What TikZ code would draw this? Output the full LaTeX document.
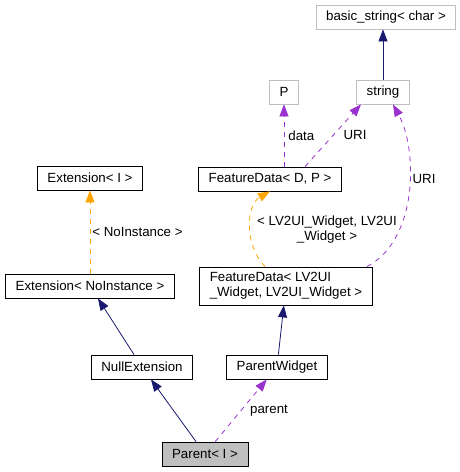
\documentclass[tikz,border=0pt]{standalone}
\usepackage{fontspec}
\setmainfont{Liberation Sans}
\usetikzlibrary{positioning,arrows.meta,calc}
\definecolor{azulheranca}{HTML}{191970}
\definecolor{laranja}{HTML}{FFA500}
\definecolor{roxo}{HTML}{9A32CD}
\definecolor{cinza}{HTML}{BFBFBF}
\tikzset{
  classe/.style={draw=black, line width=0.8pt, minimum height=24pt, inner xsep=10pt, inner ysep=2pt, font=\fontsize{13.3}{15}\selectfont},
  externa/.style={classe, draw=cinza},
  heranca/.style={-{Triangle[length=12pt,width=9pt]}, azulheranca, line width=0.8pt},
  uso/.style={-{Triangle[length=12pt,width=9pt]}, roxo, dash pattern=on 5pt off 5pt, line width=0.8pt},
  modelo/.style={-{Triangle[length=12pt,width=9pt]}, laranja, dash pattern=on 5pt off 5pt, line width=0.8pt},
  rotulo/.style={font=\fontsize{13.3}{15}\selectfont, inner sep=2pt, text=black},
}

\begin{document}
\begin{tikzpicture}[x=1pt,y=-1pt]
        \useasboundingbox (0,0) rectangle (460,472);

        % Classes externas
        \node[externa] (basic) at (386,17) {basic\_string< char >};
        \node[externa] (str) at (383,92) {string};
        \node[externa] (p) at (284,92) {P};

        % Classes
        \node[classe] (fdp) at (270,179) {FeatureData< D, P >};
        \node[classe] (exti) at (90,178) {Extension< I >};
        \node[classe] (extni) at (90,286) {Extension< NoInstance >};
        \node[classe, align=left, minimum height=38pt] (fdlv) at (286,286) {FeatureData< LV2UI\\\_Widget, LV2UI\_Widget >};
        \node[classe] (nullext) at (142,367) {NullExtension};
        \node[classe] (pwidget) at (277,367) {ParentWidget};
        \node[classe, fill=cinza] (parent) at (205,454) {Parent< I >};

        % Heranca
        \draw[heranca] (str) -- (str |- basic.south);
        \draw[heranca] (nullext) -- (extni);
        \draw[heranca] (pwidget) -- (fdlv);
        \draw[heranca] (parent) -- (nullext);

        % Modelos
        \draw[modelo] (extni) -- (exti) node[rotulo, midway, right] {< NoInstance >};
        \draw[modelo] ([xshift=-21pt]fdlv.north) .. controls (244,245) and (246,205) .. (fdp.south)
            node[rotulo, align=center] at (327,230) {< LV2UI\_Widget, LV2UI\\\_Widget >};

        % Membros
        \draw[uso] (p.south |- fdp.north) -- (p.south) node[rotulo, midway, right=2pt] {data};
        \draw[uso] ([xshift=35pt]fdp.north) -- ([xshift=-22pt]str.south) node[rotulo] at (355,135) {URI};
        \draw[uso] ([xshift=81pt]fdlv.north) .. controls (418,240) and (418,150) .. ([xshift=10pt]str.south)
            node[rotulo] at (424,179) {URI};
        \draw[uso] (parent) -- (pwidget) node[rotulo] at (269,411) {parent};

    \end{tikzpicture}
\end{document}
